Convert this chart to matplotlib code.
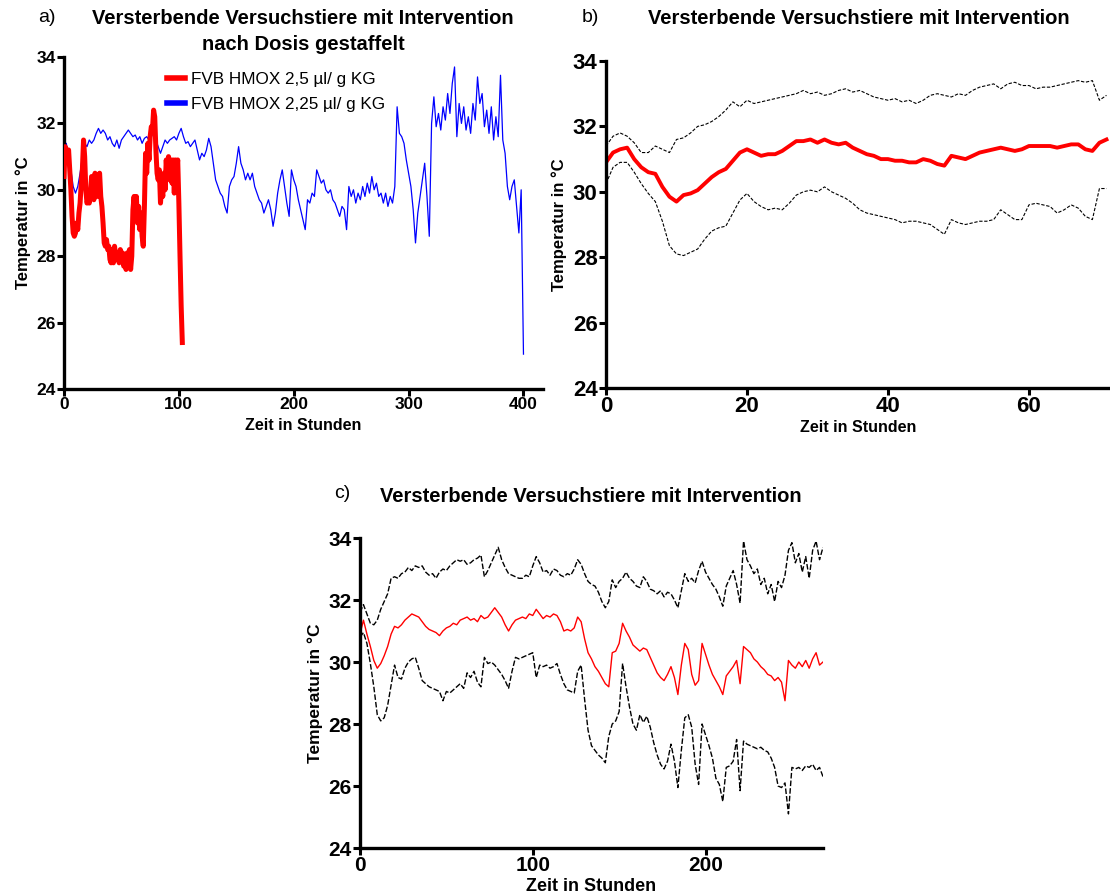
import matplotlib
matplotlib.use("Agg")
import matplotlib.pyplot as plt
from matplotlib.lines import Line2D
import numpy as np

plt.rcParams['font.family'] = ['Liberation Sans', 'DejaVu Sans']

# ---------------- Panel a data ----------------
a_red_step = 1.0
a_red_temp = [30.4, 31.3, 31.2, 31.0, 31.2, 30.6, 30.0, 29.2, 28.7, 28.6,
              28.7, 29.0, 28.8, 29.3, 29.6, 30.2, 30.6, 31.5, 31.0, 30.0,
              29.6, 29.7, 29.6, 29.9, 30.4, 30.3, 29.7, 30.5, 30.2, 29.8,
              30.4, 30.5, 29.8, 29.5, 29.0, 28.4, 28.3, 28.5, 28.2, 28.3,
              27.9, 27.8, 28.2, 27.8, 28.3, 28.0, 27.9, 28.1, 27.8, 28.2,
              27.9, 28.1, 27.7, 28.0, 27.6, 28.1, 27.7, 28.2, 27.6, 28.0,
              29.4, 29.8, 29.2, 29.8, 29.0, 29.5, 28.8, 29.3, 28.6, 28.3,
              29.5, 31.1, 30.5, 31.4, 30.9, 31.6, 31.9, 31.8, 32.4, 32.2,
              31.2, 30.5, 30.3, 30.6, 29.6, 30.1, 29.8, 30.5, 30.0, 30.9,
              30.3, 31.0, 30.6, 30.9, 30.2, 30.9, 29.9, 30.9, 30.5, 30.9,
              29.6, 28.0, 26.5, 25.4]

a_blue_step = 2.0
a_blue_temp = [31.2, 31.4, 31.0, 30.6, 30.1, 29.9, 30.1, 30.5, 31.0, 31.4,
               31.3, 31.5, 31.4, 31.5, 31.7, 31.85, 31.7, 31.8, 31.7, 31.5,
               31.6, 31.4, 31.3, 31.5, 31.25, 31.5, 31.6, 31.7, 31.8, 31.7,
               31.6, 31.65, 31.5, 31.6, 31.4, 31.55, 31.6, 31.5, 31.75, 31.6,
               31.5, 31.3, 31.1, 31.3, 31.5, 31.4, 31.5, 31.55, 31.6, 31.5,
               31.7, 31.85, 31.6, 31.4, 31.45, 31.3, 31.4, 31.5, 31.2, 30.9,
               31.1, 31.0, 31.2, 31.55, 31.3, 30.8, 30.3, 30.1, 29.9, 29.8,
               29.5, 29.3, 30.1, 30.3, 30.4, 30.8, 31.3, 30.8, 30.6, 30.3,
               30.5, 30.3, 30.5, 30.1, 29.9, 29.7, 29.6, 29.3, 29.5, 29.7,
               29.4, 28.9, 29.3, 29.9, 30.3, 30.6, 30.1, 29.6, 29.2, 30.6,
               30.3, 30.1, 29.7, 29.4, 29.1, 28.8, 29.7, 29.6, 29.9, 29.8,
               30.6, 30.4, 30.2, 30.3, 30.0, 29.9, 30.0, 29.7, 29.6, 29.4,
               29.2, 29.5, 29.4, 28.8, 30.1, 29.8, 30.0, 29.6, 29.9, 29.7,
               30.1, 29.8, 30.2, 29.9, 30.4, 30.0, 30.2, 29.8, 29.9, 29.6,
               29.9, 29.5, 29.8, 29.6, 30.1, 32.5, 31.7, 31.6, 31.4, 30.9,
               30.5, 30.1, 29.4, 28.4, 29.3, 29.8, 30.3, 30.8, 29.8, 28.6,
               32.0, 32.8, 31.9, 32.3, 31.8, 32.5, 32.1, 32.9, 32.3, 33.2,
               33.7, 31.6, 32.6, 32.0, 32.5, 31.8, 32.2, 31.7, 32.6, 32.1,
               33.4, 32.6, 32.9, 31.9, 32.4, 31.7, 32.5, 31.5, 32.2, 31.6,
               33.45, 31.5, 31.1, 30.1, 29.7, 30.1, 30.3, 29.5, 28.7, 30.0,
               25.05]

a_legend = ["FVB HMOX 2,5 µl/ g KG", "FVB HMOX 2,25 µl/ g KG"]
a_xticks = [0, 100, 200, 300, 400]

# ---------------- Panel b data (1 h steps) ----------------
b_step = 1.0
b_mean = [30.9, 31.2, 31.3, 31.35, 31.0, 30.75, 30.6, 30.55, 30.15, 29.85,
          29.7, 29.9, 29.95, 30.05, 30.25, 30.45, 30.6, 30.7, 30.95, 31.2,
          31.3, 31.2, 31.1, 31.15, 31.15, 31.25, 31.4, 31.55, 31.55, 31.6,
          31.5, 31.6, 31.5, 31.45, 31.5, 31.35, 31.25, 31.15, 31.1, 31.0,
          31.0, 30.95, 30.95, 30.9, 30.9, 31.0, 30.95, 30.85, 30.8, 31.1,
          31.05, 31.0, 31.1, 31.2, 31.25, 31.3, 31.35, 31.3, 31.25, 31.3,
          31.4, 31.4, 31.4, 31.4, 31.35, 31.4, 31.45, 31.45, 31.3, 31.25,
          31.5, 31.6]
b_upper = [31.4, 31.7, 31.8, 31.7, 31.5, 31.2, 31.2, 31.4, 31.3, 31.2,
           31.6, 31.65, 31.8, 32.0, 32.05, 32.15, 32.3, 32.5, 32.75, 32.6,
           32.8, 32.7, 32.75, 32.8, 32.85, 32.9, 32.95, 33.0, 33.1, 33.0,
           33.05, 32.95, 33.0, 33.1, 33.15, 33.05, 33.1, 33.0, 32.9, 32.85,
           32.8, 32.85, 32.75, 32.8, 32.7, 32.8, 32.95, 33.0, 32.95, 32.9,
           33.0, 32.95, 33.1, 33.2, 33.25, 33.3, 33.15, 33.3, 33.35, 33.25,
           33.25, 33.15, 33.2, 33.2, 33.25, 33.3, 33.35, 33.4, 33.35, 33.4,
           32.8, 32.95]
b_lower = [30.25, 30.75, 30.9, 30.9, 30.6, 30.25, 29.95, 29.7, 29.1, 28.35,
           28.1, 28.05, 28.15, 28.25, 28.55, 28.8, 28.9, 28.95, 29.35, 29.75,
           29.95, 29.7, 29.55, 29.45, 29.5, 29.45, 29.65, 29.9, 30.0, 30.05,
           30.0, 30.15, 30.0, 29.9, 29.8, 29.65, 29.45, 29.35, 29.3, 29.25,
           29.2, 29.15, 29.05, 29.1, 29.1, 29.05, 29.0, 28.85, 28.7, 29.15,
           29.05, 29.0, 29.05, 29.1, 29.1, 29.15, 29.45, 29.3, 29.15, 29.15,
           29.6, 29.65, 29.6, 29.55, 29.35, 29.45, 29.6, 29.5, 29.25, 29.15,
           30.1, 30.1]
b_xticks = [0, 20, 40, 60]

# ---------------- Panel c data (2 h steps) ----------------
c_step = 2.0
c_upper = [31.6, 31.85, 31.55, 31.25, 31.2, 31.35, 31.7, 31.95, 32.2, 32.7,
           32.75, 32.7, 32.85, 32.9, 33.05, 32.95, 33.1, 33.05, 33.1, 32.9,
           32.8, 32.85, 32.7, 32.9, 33.0, 32.95, 33.1, 33.2, 33.3, 33.25,
           33.3, 33.15, 33.2, 33.3, 33.35, 33.45, 32.75, 32.95, 33.2, 33.45,
           33.7, 33.3, 33.05, 32.85, 32.8, 32.75, 32.7, 32.7, 32.8, 32.75,
           33.1, 33.4, 33.2, 32.9, 32.95, 32.8, 33.0, 32.95, 32.8, 32.75,
           32.85, 32.8, 33.0, 33.3, 33.15, 32.85, 32.6, 32.5, 32.45, 32.25,
           31.95, 31.75, 31.95, 32.65, 32.4, 32.6, 32.7, 32.9, 32.7, 32.6,
           32.45, 32.4, 32.75, 32.6, 32.35, 32.3, 32.2, 32.3, 32.1, 32.25,
           32.2, 32.0, 31.75, 32.3, 32.85, 32.6, 32.7, 32.55, 32.95, 33.25,
           32.9, 32.7, 32.5, 32.35, 32.1, 31.8, 32.45, 32.7, 32.95, 32.5,
           31.9, 33.9, 33.3, 33.1, 32.85, 33.0, 32.5, 32.7, 32.2, 32.5,
           31.95, 32.6, 32.4, 32.8, 33.6, 33.85, 33.2, 33.5, 32.9, 33.4,
           32.7, 33.6, 33.9, 33.3, 33.7]
c_mean = [30.9, 31.35, 30.9, 30.5, 30.05, 29.8, 29.95, 30.2, 30.5, 30.9,
          31.15, 31.1, 31.2, 31.35, 31.45, 31.55, 31.5, 31.45, 31.3, 31.15,
          31.05, 31.0, 30.95, 30.85, 31.0, 31.1, 31.15, 31.25, 31.2, 31.35,
          31.4, 31.45, 31.35, 31.4, 31.3, 31.5, 31.4, 31.45, 31.6, 31.75,
          31.6, 31.45, 31.2, 31.0, 31.2, 31.35, 31.4, 31.45, 31.4, 31.55,
          31.5, 31.7, 31.55, 31.4, 31.5, 31.45, 31.55, 31.5, 31.3, 31.0,
          31.05, 31.0, 31.1, 31.45, 31.3, 30.75, 30.3, 30.1, 29.85, 29.7,
          29.5, 29.3, 29.2, 30.3, 30.35, 30.6, 31.25, 31.0, 30.8, 30.55,
          30.45, 30.35, 30.45, 30.4, 30.15, 29.9, 29.65, 29.5, 29.4, 29.6,
          29.85, 29.5, 28.95, 29.9, 30.6, 30.4, 29.6, 29.25, 29.4, 30.6,
          30.25, 29.9, 29.6, 29.4, 29.2, 28.95, 29.55, 29.7, 29.85, 30.05,
          29.3, 30.5, 30.4, 30.3, 30.1, 30.0, 29.85, 29.75, 29.6, 29.55,
          29.4, 29.5, 29.35, 28.75, 30.05, 29.9, 29.8, 30.0, 29.85, 30.05,
          29.8, 30.1, 30.3, 29.9, 30.0]
c_lower = [30.8, 30.95, 30.6, 29.95, 29.2, 28.3, 28.1, 28.2, 28.6, 29.25,
           29.9, 29.5, 29.45, 29.8, 30.0, 30.1, 30.15, 29.8, 29.4, 29.3,
           29.2, 29.15, 29.1, 29.05, 28.75, 29.05, 29.0, 29.1, 29.2, 29.3,
           29.15, 29.65, 29.5, 29.7, 29.35, 29.2, 30.15, 29.95, 30.0, 29.9,
           29.75, 29.6, 29.4, 29.15, 29.7, 30.15, 30.1, 30.15, 30.2, 30.25,
           30.3, 29.5, 29.9, 29.85, 29.9, 29.8, 29.85, 29.95, 29.6, 29.3,
           29.1, 29.05, 29.0, 29.7, 29.9, 28.8, 27.8, 27.3, 27.15, 27.0,
           26.9, 26.75, 27.6, 28.0, 28.1, 28.4, 29.95, 29.2, 28.55, 28.0,
           27.8, 28.3, 28.05, 28.25, 27.9, 27.4, 27.0, 26.7, 26.55, 26.8,
           27.35, 26.8, 25.95, 27.15, 28.2, 28.3, 27.9, 26.7, 26.05, 28.0,
           27.65, 27.3, 26.9, 26.25, 26.05, 25.5, 26.6, 26.65, 26.8, 27.5,
           25.85, 27.45, 27.35, 27.3, 27.25, 27.2, 27.25, 27.15, 27.1, 26.9,
           26.6, 26.0, 25.95, 26.1, 25.1, 26.6, 26.55, 26.6, 26.5, 26.65,
           26.6, 26.7, 26.5, 26.6, 26.3]
c_xticks = [0, 100, 200]

y_ticks = [24, 26, 28, 30, 32, 34]
title_main = "Versterbende Versuchstiere mit Intervention"
title_a2 = "nach Dosis gestaffelt"
xlabel = "Zeit in Stunden"
ylabel = "Temperatur in °C"

# ---------------- figure ----------------
W, H = 1110, 893
fig = plt.figure(figsize=(W / 100, H / 100), dpi=100)


def px_axes(left, top, right, bottom):
    return fig.add_axes([left / W, 1 - bottom / H, (right - left) / W, (bottom - top) / H])


def style(ax, tick_fs, xlab_fs, ylab_fs, xpad=2):
    for s in ['top', 'right']:
        ax.spines[s].set_visible(False)
    for s in ['left', 'bottom']:
        ax.spines[s].set_linewidth(2.4)
        ax.spines[s].set_color('black')
    ax.tick_params(axis='both', width=2.2, length=5, direction='out',
                   labelsize=tick_fs, pad=1)
    for lab in ax.get_xticklabels() + ax.get_yticklabels():
        lab.set_fontweight('bold')
    ax.set_ylim(24, 34)
    ax.set_yticks(y_ticks)
    ax.set_xlabel(xlabel, fontsize=xlab_fs, fontweight='bold', labelpad=xpad)
    ax.set_ylabel(ylabel, fontsize=ylab_fs, fontweight='bold', labelpad=4)


TITLE_FS = 14.5

# Panel a
axa = px_axes(64, 57, 543, 389)
ta = np.arange(len(a_red_temp)) * a_red_step
tb = np.arange(len(a_blue_temp)) * a_blue_step
axa.plot(tb, a_blue_temp, color='#0000ff', lw=0.9, zorder=2)
axa.plot(ta, a_red_temp, color='#ff0000', lw=3.6, zorder=3)
axa.set_xlim(0, 417)
axa.set_xticks(a_xticks)
style(axa, 12.5, 11.5, 12, xpad=4)
handles = [Line2D([], [], color='#ff0000', lw=4), Line2D([], [], color='#0000ff', lw=4)]
axa.legend(handles, a_legend, loc='upper left', bbox_to_anchor=(0.2, 0.975), frameon=False,
           fontsize=12.3, handlelength=1.1, handletextpad=0.35, labelspacing=0.55,
           borderaxespad=0)
fig.text(47 / W, 1 - 18 / H, "a)", fontsize=14, ha='center', va='center')
fig.text(303 / W, 1 - 18 / H, title_main, fontsize=TITLE_FS, fontweight='bold', ha='center', va='center')
fig.text(303 / W, 1 - 45 / H, title_a2, fontsize=TITLE_FS, fontweight='bold', ha='center', va='center')

# Panel b
axb = px_axes(606, 61, 1110, 388)
tbb = np.arange(len(b_mean)) * b_step
axb.plot(tbb, b_upper, color='black', lw=0.8, ls=(0, (3, 1.5)))
axb.plot(tbb, b_lower, color='black', lw=0.8, ls=(0, (3, 1.5)))
axb.plot(tbb, b_mean, color='#ff0000', lw=2.8)
axb.set_xlim(0, 71.5)
axb.set_xticks(b_xticks)
style(axb, 16, 11.5, 12)
fig.text(590 / W, 1 - 18 / H, "b)", fontsize=14, ha='center', va='center')
fig.text(859 / W, 1 - 18 / H, title_main, fontsize=TITLE_FS, fontweight='bold', ha='center', va='center')

# Panel c
axc = px_axes(360, 538, 823, 848)
tc = np.arange(len(c_mean)) * c_step
axc.plot(tc, c_upper, color='black', lw=1.0, ls=(0, (4, 1.5)))
axc.plot(tc, c_lower, color='black', lw=1.0, ls=(0, (4, 1.5)))
axc.plot(tc, c_mean, color='#ff0000', lw=1.0)
axc.set_xlim(0, 268)
axc.set_xticks(c_xticks)
style(axc, 15, 13, 12.5)
fig.text(342 / W, 1 - 494 / H, "c)", fontsize=14, ha='center', va='center')
fig.text(591 / W, 1 - 496 / H, title_main, fontsize=TITLE_FS, fontweight='bold', ha='center', va='center')

fig.savefig("out.png", dpi=100)
